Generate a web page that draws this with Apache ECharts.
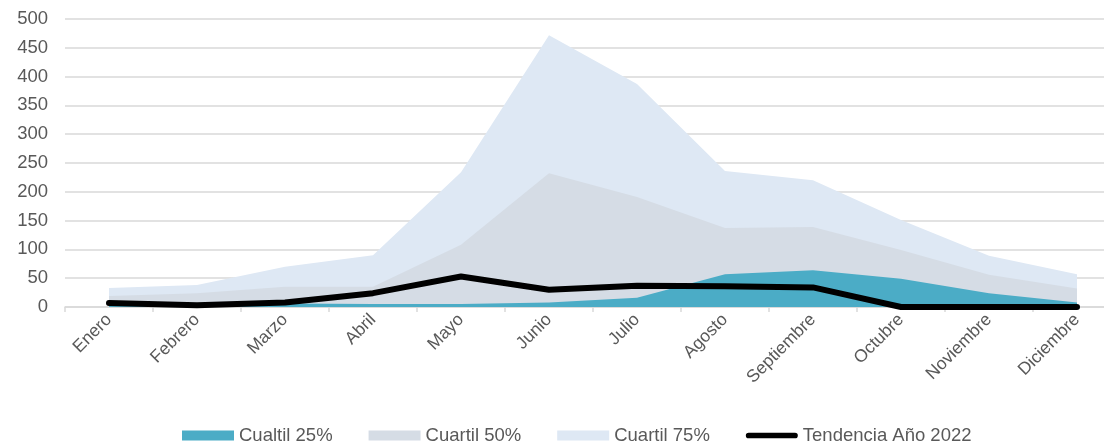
<!DOCTYPE html>
<html>
<head>
<meta charset="utf-8">
<script src="https://cdn.jsdelivr.net/npm/echarts@6/dist/echarts.min.js"></script>
<style>
  html, body { margin: 0; padding: 0; background: #fff; }
  #chart { width: 1104px; height: 443px; }
</style>
</head>
<body>
<div id="chart"></div>
<script>
var meses = ['Enero', 'Febrero', 'Marzo', 'Abril', 'Mayo', 'Junio', 'Julio', 'Agosto', 'Septiembre', 'Octubre', 'Noviembre', 'Diciembre'];
var cuartil25 = [2, 3, 6, 5, 5, 8, 16, 57, 64, 49, 24, 8];
var cuartil50 = [19, 24, 35, 35, 108, 232, 191, 137, 139, 99, 56, 32];
var cuartil75 = [33, 38, 70, 90, 234, 472, 387, 236, 220, 151, 89, 57];
var tendencia2022 = [7, 3, 8, 24, 53, 30, 37, 36, 34, 0, 0, 0];

var txt = '#595959';
var fuente = 'Liberation Sans, Arial, sans-serif';
var chart = echarts.init(document.getElementById('chart'));

function area(name, data, color) {
  return {
    name: name,
    type: 'line',
    data: data,
    symbol: 'none',
    lineStyle: { width: 0 },
    itemStyle: { color: color },
    areaStyle: { color: color, opacity: 1 },
    animation: false
  };
}

chart.setOption({
  // el eje sigue mas alla del borde derecho, como en el original
  grid: { left: 65, right: -17, top: 19, bottom: 136, outerBoundsMode: 'none', containLabel: false },
  legend: {
    left: 177,
    top: 421,
    itemWidth: 52,
    itemHeight: 10,
    itemGap: 36,
    textStyle: { color: txt, fontSize: 18.5, fontFamily: fuente },
    data: [
      { name: 'Cualtil 25%', icon: 'rect' },
      { name: 'Cuartil 50%', icon: 'rect' },
      { name: 'Cuartil 75%', icon: 'rect' },
      { name: 'Tendencia Año 2022', icon: 'path://M3,0 L52,0 A3,3 0 0 1 52,6 L3,6 A3,3 0 0 1 3,0 Z' }
    ]
  },
  xAxis: {
    type: 'category',
    data: meses,
    boundaryGap: true,
    axisLine: { lineStyle: { color: '#d9d9d9', width: 1.5 } },
    axisTick: { show: true, length: 5, lineStyle: { color: '#d9d9d9', width: 1.5 } },
    axisLabel: { rotate: 45, margin: 10, color: txt, fontSize: 17.5, fontFamily: fuente }
  },
  yAxis: {
    type: 'value',
    min: 0,
    max: 500,
    interval: 50,
    axisLine: { show: false },
    axisTick: { show: false },
    splitLine: { lineStyle: { color: '#d9d9d9', width: 1.5 } },
    axisLabel: { margin: 17, color: txt, fontSize: 18.5, fontFamily: fuente }
  },
  series: [
    area('Cuartil 75%', cuartil75, '#dee8f4'),
    area('Cuartil 50%', cuartil50, '#d5dce5'),
    area('Cualtil 25%', cuartil25, '#4bacc6'),
    {
      name: 'Tendencia Año 2022',
      type: 'line',
      data: tendencia2022,
      symbol: 'none',
      itemStyle: { color: '#000' },
      lineStyle: { color: '#000', width: 6, cap: 'round', join: 'round' },
      animation: false
    }
  ]
});
</script>
</body>
</html>
